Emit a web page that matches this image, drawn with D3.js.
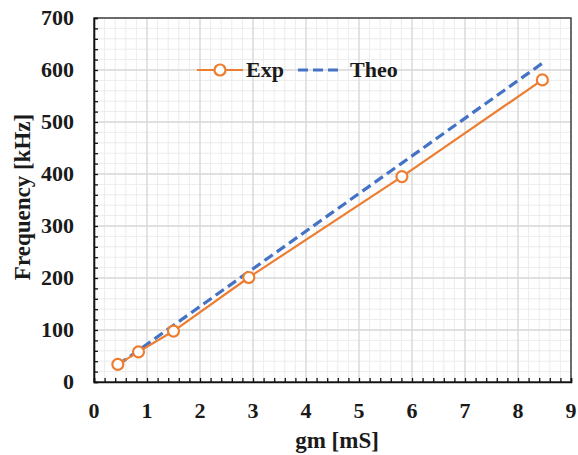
<!DOCTYPE html>
<html>
<head>
<meta charset="utf-8">
<script src="https://cdn.jsdelivr.net/npm/d3@7"></script>
<style>
body { margin: 0; background: #fff; }
</style>
</head>
<body>
<svg id="chart" width="578" height="455"></svg>
<script>
// measured gm [mS] and frequency [kHz]
var gm = [0.45, 0.84, 1.50, 2.92, 5.81, 8.46];
var exp_freq = [34, 58, 98, 201, 395, 581];
var theo_freq = [33, 61, 109, 212, 421, 613];
var x_ticks = [0, 1, 2, 3, 4, 5, 6, 7, 8, 9];
var y_ticks = [0, 100, 200, 300, 400, 500, 600, 700];

var label_font = "'Liberation Serif', 'Times New Roman', serif";

var svg = d3.select("#chart"),
    margin = {top: 18, right: 7, bottom: 73, left: 94},
    width = +svg.attr("width") - margin.left - margin.right,
    height = +svg.attr("height") - margin.top - margin.bottom;

var x = d3.scaleLinear().domain([0, 9]).range([0, width]);
var y = d3.scaleLinear().domain([0, 700]).range([height, 0]);

var g = svg.append("g")
    .attr("transform", "translate(" + margin.left + "," + margin.top + ")");

// minor grid
var x_minor = d3.range(0, 9.001, 0.2);
var y_minor = d3.range(0, 700.1, 20);
g.selectAll(".xminor").data(x_minor).enter().append("line")
    .attr("x1", function(d) { return x(d); }).attr("x2", function(d) { return x(d); })
    .attr("y1", 0).attr("y2", height)
    .attr("stroke", "#ececec").attr("stroke-width", 1);
g.selectAll(".yminor").data(y_minor).enter().append("line")
    .attr("y1", function(d) { return y(d); }).attr("y2", function(d) { return y(d); })
    .attr("x1", 0).attr("x2", width)
    .attr("stroke", "#ececec").attr("stroke-width", 1);

// major grid
g.selectAll(".xmajor").data(x_ticks).enter().append("line")
    .attr("x1", function(d) { return x(d); }).attr("x2", function(d) { return x(d); })
    .attr("y1", 0).attr("y2", height)
    .attr("stroke", "#d9d9d9").attr("stroke-width", 1.3);
g.selectAll(".ymajor").data(y_ticks).enter().append("line")
    .attr("y1", function(d) { return y(d); }).attr("y2", function(d) { return y(d); })
    .attr("x1", 0).attr("x2", width)
    .attr("stroke", "#d9d9d9").attr("stroke-width", 1.3);

// border
g.append("rect")
    .attr("width", width).attr("height", height)
    .attr("fill", "none").attr("stroke", "#444").attr("stroke-width", 1.5);

// axes with inner minor ticks
var xAxis = d3.axisBottom(x).tickValues(x_minor).tickSize(-4).tickFormat("");
var yAxis = d3.axisLeft(y).tickValues(y_minor).tickSize(-4).tickFormat("");
g.append("g").attr("transform", "translate(0," + height + ")").call(xAxis)
    .call(function(s) { s.selectAll("line").attr("stroke", "#111").attr("stroke-width", 1.3); s.select(".domain").attr("stroke", "#111").attr("stroke-width", 1.6); });
g.append("g").call(yAxis)
    .call(function(s) { s.selectAll("line").attr("stroke", "#111").attr("stroke-width", 1.3); s.select(".domain").attr("stroke", "#111").attr("stroke-width", 1.6); });

function styleText(sel, size) {
    sel.style("font-family", label_font).style("font-weight", "bold")
        .style("font-size", size + "px").style("fill", "#1a1a1a");
}

// tick labels
g.selectAll(".xlab").data(x_ticks).enter().append("text")
    .attr("x", function(d) { return x(d); })
    .attr("y", height + 36)
    .attr("text-anchor", "middle")
    .call(styleText, 22)
    .text(function(d) { return d; });
g.selectAll(".ylab").data(y_ticks).enter().append("text")
    .attr("x", -20)
    .attr("y", function(d) { return y(d); })
    .attr("dy", "0.33em")
    .attr("text-anchor", "end")
    .call(styleText, 22)
    .text(function(d) { return d; });

// axis titles
svg.append("text")
    .attr("x", 337)
    .attr("y", 448)
    .attr("text-anchor", "middle")
    .call(styleText, 23)
    .text("gm [mS]");
svg.append("text")
    .attr("transform", "translate(30,197) rotate(-90)")
    .attr("text-anchor", "middle")
    .call(styleText, 23)
    .text("Frequency [kHz]");

// series
var line_exp = d3.line()
    .x(function(d, i) { return x(gm[i]); })
    .y(function(d) { return y(d); });

g.append("path")
    .datum(theo_freq)
    .attr("d", line_exp)
    .attr("fill", "none")
    .attr("stroke", "#4472C4")
    .attr("stroke-width", 3.2)
    .attr("stroke-dasharray", "10,5");

g.append("path")
    .datum(exp_freq)
    .attr("d", line_exp)
    .attr("fill", "none")
    .attr("stroke", "#ED7D31")
    .attr("stroke-width", 2.2);

g.selectAll(".pt").data(exp_freq).enter().append("circle")
    .attr("cx", function(d, i) { return x(gm[i]); })
    .attr("cy", function(d) { return y(d); })
    .attr("r", 5.5)
    .attr("fill", "#fff")
    .attr("stroke", "#ED7D31")
    .attr("stroke-width", 2.2);

// legend
var leg = svg.append("g").attr("transform", "translate(197,70)");
leg.append("line").attr("x1", 0).attr("x2", 46).attr("y1", 0).attr("y2", 0)
    .attr("stroke", "#ED7D31").attr("stroke-width", 2.2);
leg.append("circle").attr("cx", 23).attr("cy", 0).attr("r", 5.5)
    .attr("fill", "#fff").attr("stroke", "#ED7D31").attr("stroke-width", 2.2);
leg.append("text").attr("x", 49).attr("y", 0).attr("dy", "0.33em")
    .call(styleText, 22).text("Exp");
leg.append("line").attr("x1", 101).attr("x2", 142).attr("y1", 0).attr("y2", 0)
    .attr("stroke", "#4472C4").attr("stroke-width", 3.2).attr("stroke-dasharray", "10,5");
leg.append("text").attr("x", 153).attr("y", 0).attr("dy", "0.33em")
    .call(styleText, 22).text("Theo");
</script>
</body>
</html>
